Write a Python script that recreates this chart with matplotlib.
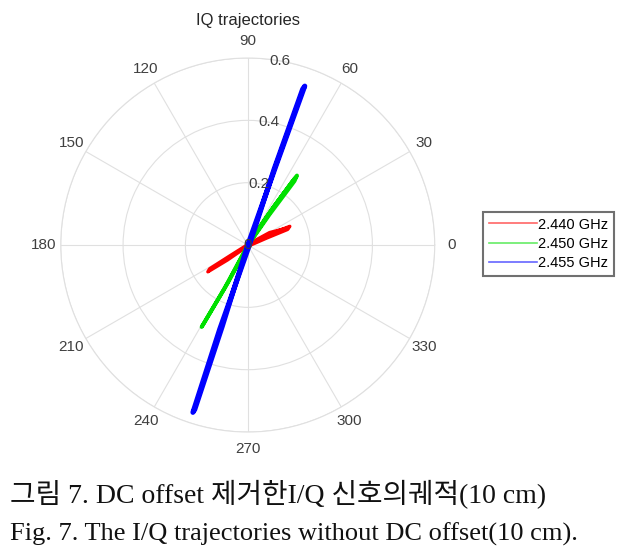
import numpy as np
import matplotlib
matplotlib.use('Agg')
import matplotlib.pyplot as plt

# I/Q samples (roughly, thin loops through the origin)
freqs = ['2.440 GHz', '2.450 GHz', '2.455 GHz']
colors = ['#ff0000', '#00e000', '#0000ff']

I_red = [0.000, 0.070, 0.135, 0.128, 0.060, -0.004, -0.065, -0.128, -0.122, -0.058, 0.004, 0.070, 0.130, 0.000]
Q_red = [0.000, 0.035, 0.060, 0.050, 0.022, -0.006, -0.048, -0.086, -0.076, -0.035, 0.004, 0.040, 0.055, 0.000]

I_green = [0.000, 0.080, 0.158, 0.150, 0.070, -0.004, -0.075, -0.148, -0.140, -0.062, 0.006, 0.085, 0.152, 0.140, 0.060, 0.000]
Q_green = [0.000, 0.118, 0.223, 0.205, 0.098, -0.008, -0.140, -0.263, -0.250, -0.118, 0.008, 0.125, 0.215, 0.200, 0.090, 0.000]

I_blue = [0.000, 0.092, 0.183, 0.176, 0.085, 0.004, -0.090, -0.176, -0.170, -0.082, 0.000]
Q_blue = [0.000, 0.258, 0.510, 0.500, 0.245, -0.004, -0.270, -0.537, -0.528, -0.262, 0.000]

r_ticks = [0, 0.2, 0.4, 0.6]
theta_ticks = list(range(0, 360, 30))

caption_kr = '그림 7. DC offset 제거한I/Q 신호의궤적(10 cm)'
caption_en = 'Fig. 7. The I/Q trajectories without DC offset(10 cm).'

plt.rcParams['font.family'] = ['Liberation Sans', 'DejaVu Sans']

fig = plt.figure(figsize=(6.32, 5.5), dpi=100)
ax = fig.add_axes([0.096, 0.2145, 0.592, 0.680], projection='polar')

grid_c = '#e0e0e0'
series = [(I_red, Q_red), (I_green, Q_green), (I_blue, Q_blue)]
for (I, Q), c, lab, lw in zip(series, colors, freqs, [2.4, 2.8, 3.6]):
    I = np.asarray(I)
    Q = np.asarray(Q)
    ax.plot(np.arctan2(Q, I), np.hypot(I, Q), color=c, lw=lw, label=lab)

ax.set_rlim(0, 0.6)
ax.set_rticks(r_ticks)
ax.set_yticklabels([])
for r in r_ticks:
    ax.text(np.deg2rad(80), r, '{0:g}'.format(r), ha='center', va='center',
            fontsize=11, color='#404040')

ax.set_thetagrids(theta_ticks, [str(t) for t in theta_ticks])
ax.tick_params(axis='x', labelsize=11, labelcolor='#404040', pad=1.5)
ax.grid(True, color=grid_c, lw=0.8)
ax.spines['polar'].set_color(grid_c)
ax.set_title('IQ trajectories', fontsize=12, color='#262626', pad=24)

leg = fig.legend(loc='upper left', bbox_to_anchor=(0.764, 0.615), fontsize=10.5,
                 handlelength=3.3, handletextpad=0.1, borderpad=0.4,
                 labelspacing=0.35, borderaxespad=0, fancybox=False, framealpha=1)
leg.get_frame().set_edgecolor('#707070')
leg.get_frame().set_linewidth(1.5)
for h in leg.get_lines():
    h.set_linewidth(1.2)
    h.set_alpha(0.6)

cap_font = ['Liberation Serif', 'Noto Sans CJK KR']
fig.text(0.016, 0.085, caption_kr, fontsize=20, family=cap_font, color='#111111', va='baseline')
fig.text(0.016, 0.018, caption_en, fontsize=19, family=cap_font, color='#111111', va='baseline')

fig.savefig('out.png', dpi=100)
